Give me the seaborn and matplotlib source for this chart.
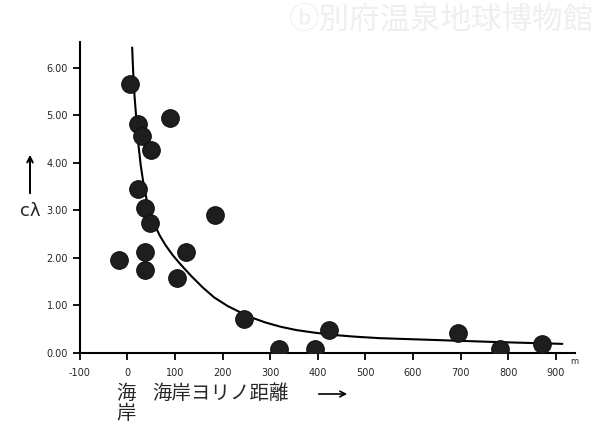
import numpy as np
import pandas as pd
import matplotlib
matplotlib.use('Agg')
import matplotlib.pyplot as plt
import seaborn as sns

# data
dist = [-17, 6, 23, 31, 50, 90, 23, 36, 48, 36, 36, 123, 105, 185, 245, 318, 395, 423, 695, 782, 872]
cl = [1.96, 5.66, 4.81, 4.57, 4.28, 4.94, 3.45, 3.06, 2.74, 2.12, 1.74, 2.12, 1.57, 2.90, 0.72, 0.08, 0.08, 0.49, 0.42, 0.08, 0.19]

# hand-drawn trend line
curve_x = [10, 12, 15, 19, 23, 28, 34, 41, 49, 58, 68, 80, 95, 112, 134, 158, 182, 210, 238, 262, 290,
           322, 355, 390, 430, 480, 530, 590, 650, 710, 770, 840, 914]
curve_y = [6.43, 5.95, 5.40, 4.90, 4.40, 3.95, 3.55, 3.20, 2.92, 2.68, 2.47, 2.27, 2.06, 1.86, 1.62, 1.38, 1.17, 0.99, 0.85, 0.74, 0.64,
           0.55, 0.48, 0.43, 0.38, 0.34, 0.31, 0.29, 0.27, 0.25, 0.23, 0.21, 0.19]

xticks = [-100, 0, 100, 200, 300, 400, 500, 600, 700, 800, 900]
yticks = [0, 1, 2, 3, 4, 5, 6]
ytick_labels = ['0.00', '1.00', '2.00', '3.00', '4.00', '5.00', '6.00']

sns.set_style('ticks')
plt.rcParams['font.family'] = ['Noto Sans CJK JP', 'DejaVu Sans']

pts = pd.DataFrame({'dist': dist, 'cl': cl})
line = pd.DataFrame({'dist': curve_x, 'cl': curve_y})

fig = plt.figure(figsize=(6, 4.4), dpi=100)
ax = fig.add_axes([0.133, 0.198, 0.825, 0.707])

sns.lineplot(data=line, x='dist', y='cl', ax=ax, color='black', lw=1.5, sort=False)
sns.scatterplot(data=pts, x='dist', y='cl', ax=ax, s=160, color='#1e1e1e',
                edgecolor='#101010', linewidth=0.8, zorder=3)

ax.set_xlim(-100, 940)
ax.set_ylim(0, 6.55)
ax.set_xticks(xticks)
ax.set_xticklabels([str(t) for t in xticks], fontsize=7, family='DejaVu Sans')
ax.set_yticks(yticks)
ax.set_yticklabels(ytick_labels, fontsize=7, family='DejaVu Sans')
ax.tick_params(axis='both', direction='out', length=5, width=1.3, color='black')
ax.tick_params(axis='x', pad=6)
ax.set_xlabel('')
ax.set_ylabel('')
sns.despine(ax=ax)
for s in ['left', 'bottom']:
    ax.spines[s].set_linewidth(1.5)
    ax.spines[s].set_color('black')

ax.text(0.99, -0.035, 'm', transform=ax.transAxes, fontsize=6, family='DejaVu Sans')

# y label with arrow
fig.text(0.05, 1 - 211 / 440, 'cλ', fontsize=13, ha='center', va='center', family='DejaVu Sans')
ax.annotate('', xy=(0.05, 1 - 152 / 440), xytext=(0.05, 1 - 196 / 440),
            xycoords='figure fraction', textcoords='figure fraction',
            arrowprops=dict(arrowstyle='->', lw=1.4, color='black'))

# x label
fig.text(126 / 600, 1 - 393 / 440, '海', fontsize=14, ha='center', va='center')
fig.text(126 / 600, 1 - 413 / 440, '岸', fontsize=14, ha='center', va='center')
fig.text(152 / 600, 1 - 393 / 440, '海岸ヨリノ距離', fontsize=14, ha='left', va='center')
ax.annotate('', xy=(350 / 600, 1 - 394 / 440), xytext=(316 / 600, 1 - 394 / 440),
            xycoords='figure fraction', textcoords='figure fraction',
            arrowprops=dict(arrowstyle='->', lw=1.2, color='black'))

# faint watermark
fig.text(0.99, 1 - 20 / 440, 'ⓑ別府温泉地球博物館', fontsize=22, ha='right', va='center',
         color='#efefef', family=['Noto Sans CJK JP', 'DejaVu Sans'])

fig.savefig('out.png', dpi=100)
